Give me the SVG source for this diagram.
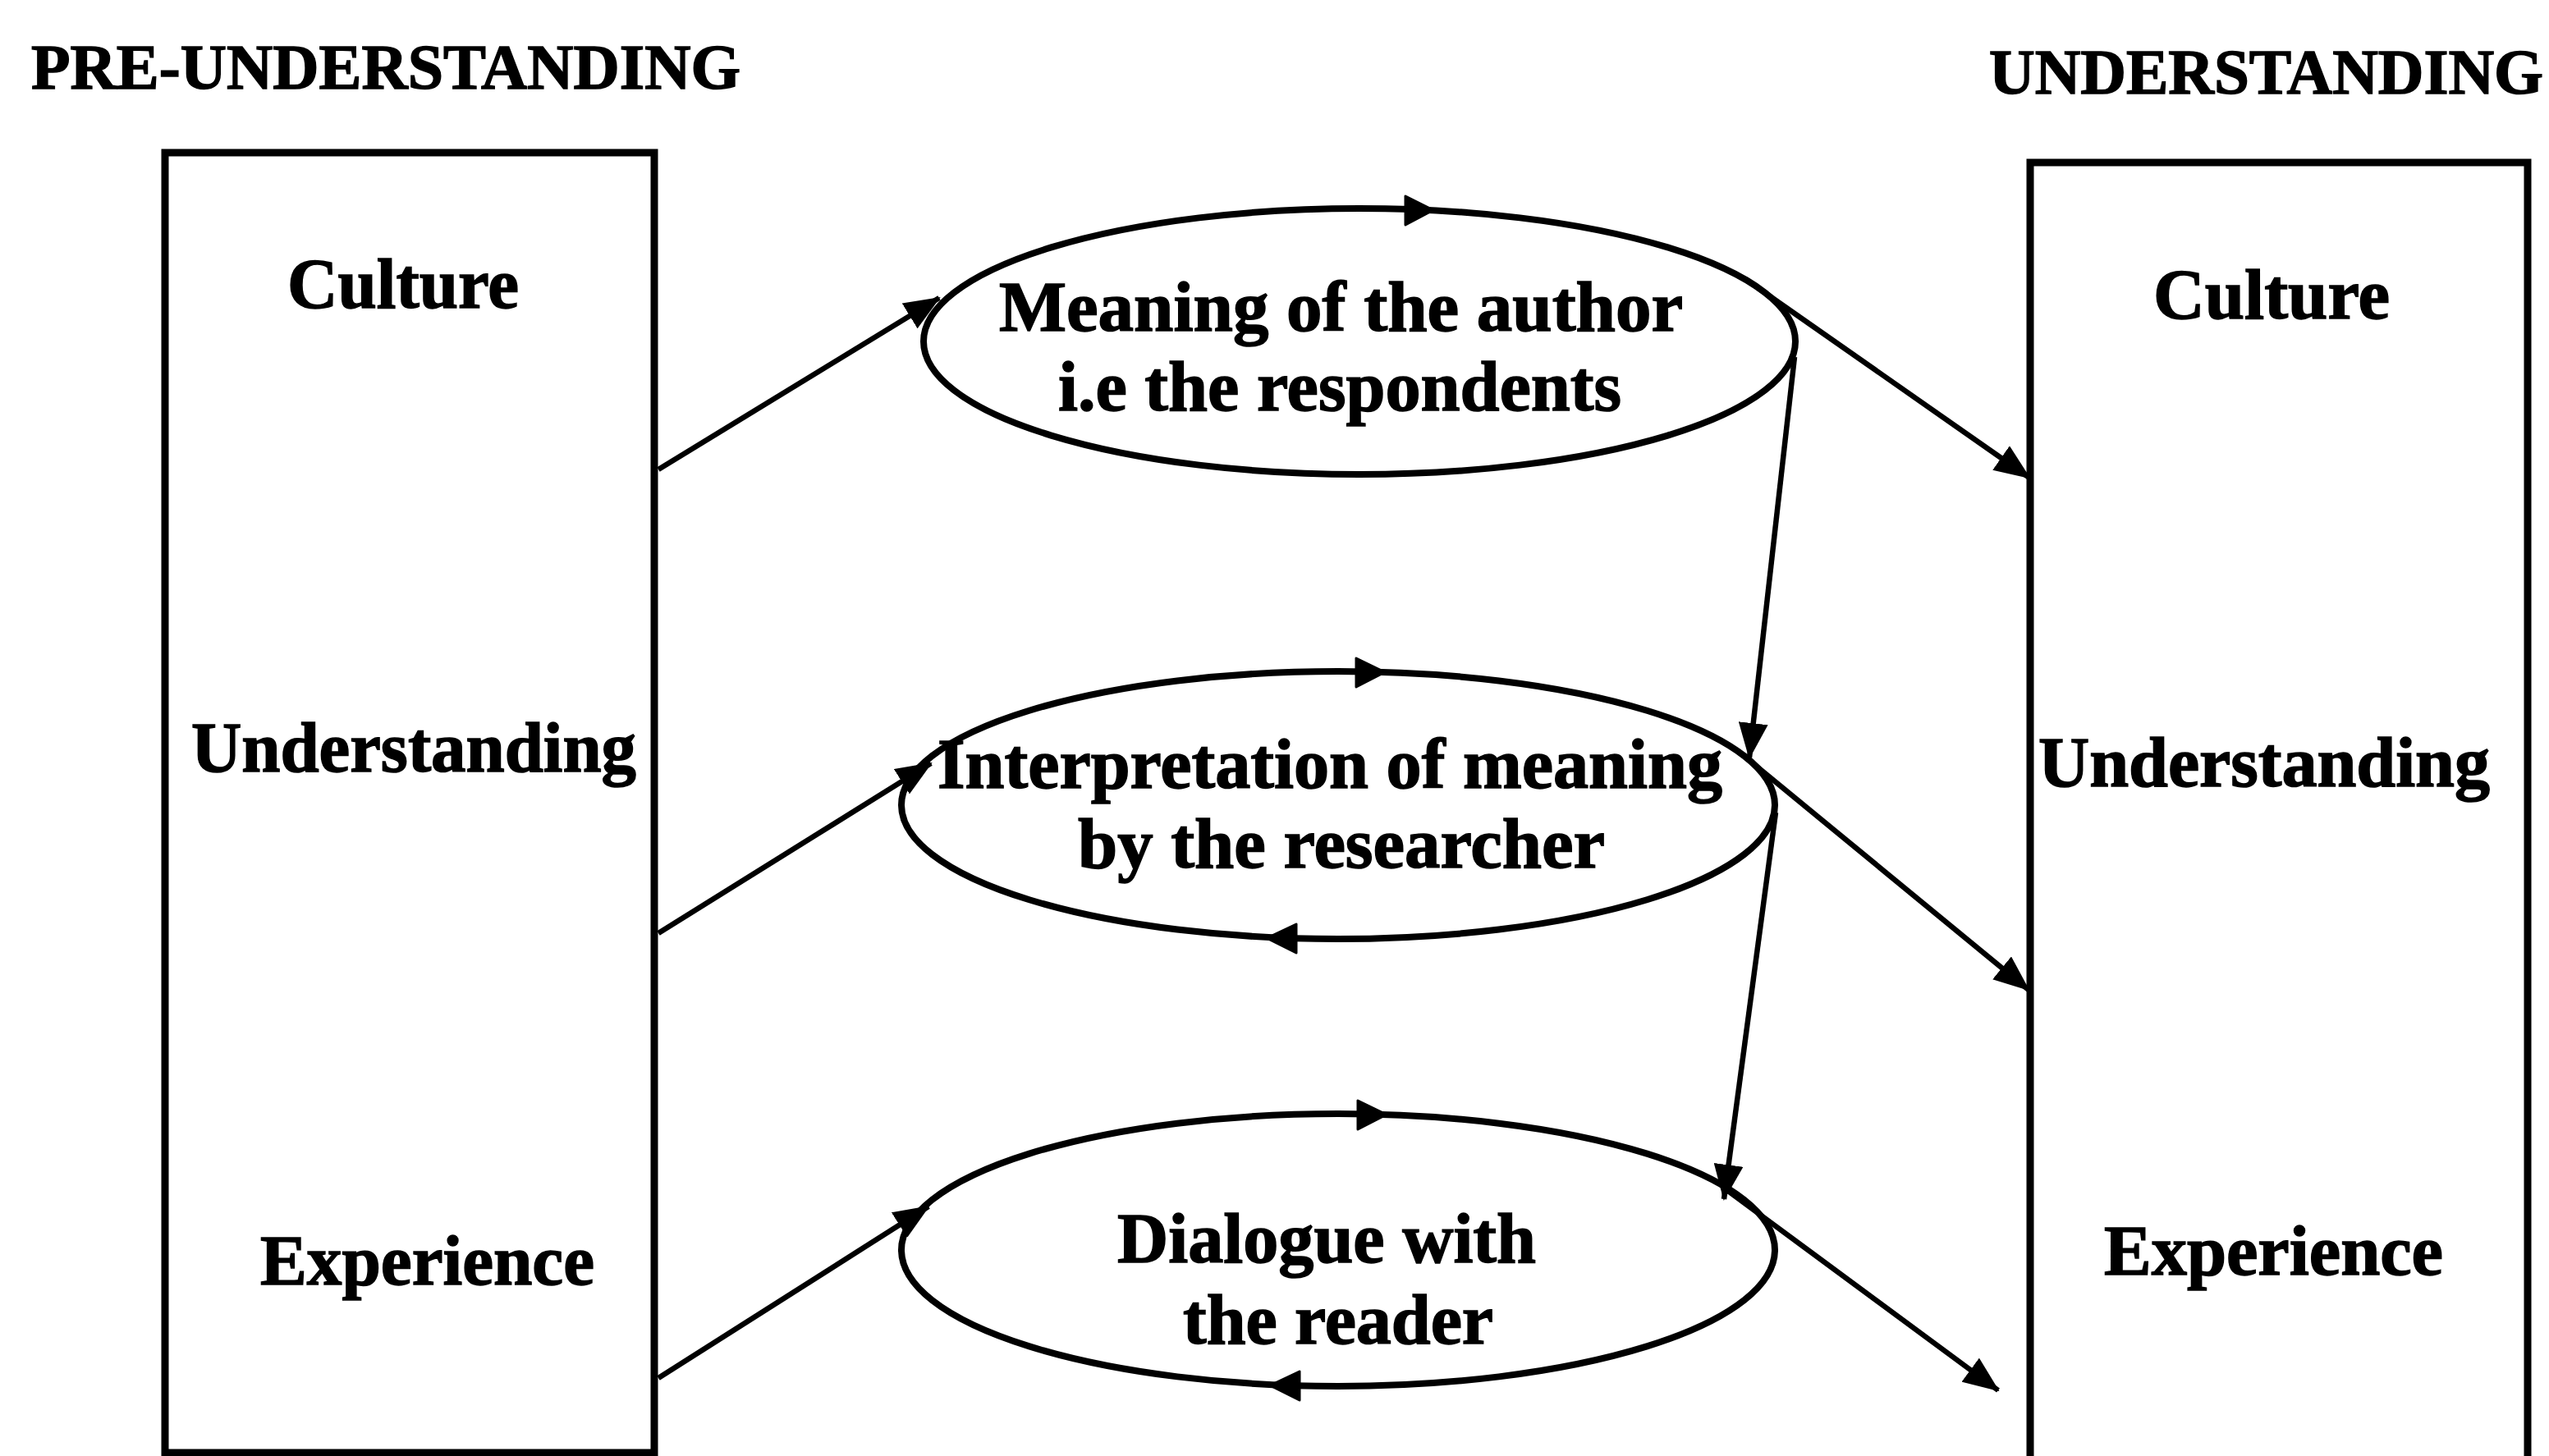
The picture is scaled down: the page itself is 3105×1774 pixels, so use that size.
<svg xmlns="http://www.w3.org/2000/svg" width="3105" height="1774" viewBox="0 0 3105 1774">
  <style>
    .t { font-family: "Liberation Serif", "Times New Roman", serif; font-weight: bold; fill: #000; stroke: #000; stroke-width: 1.5; }
    .title { font-size: 78px; }
    .lbl { font-size: 86px; }
    .box { fill: none; stroke: #000; stroke-width: 9; }
    .oval { fill: none; stroke: #000; stroke-width: 8; }
    .link { fill: none; stroke: #000; stroke-width: 6.5; }
    .head { fill: #000; stroke: #000; stroke-width: 3; stroke-linejoin: round; }
  </style>
  <defs>
    <marker id="arrow" markerUnits="userSpaceOnUse" markerWidth="44" markerHeight="36" refX="42" refY="18" orient="auto">
      <path d="M0,0 L44,18 L0,36 Z" fill="#000"/>
    </marker>
  </defs>

  <rect width="3105" height="1774" fill="#fff"/>

  <!-- column headings -->
  <g id="heading-pre">
    <text class="t title" x="38" y="108" textLength="864" lengthAdjust="spacingAndGlyphs">PRE-UNDERSTANDING</text>
  </g>
  <g id="heading-post">
    <text class="t title" x="2423" y="114" textLength="675" lengthAdjust="spacingAndGlyphs">UNDERSTANDING</text>
  </g>

  <!-- left column: pre-understanding -->
  <g id="pre-box">
    <rect class="box" x="201" y="186" width="596" height="1584"/>
    <text class="t lbl" x="350" y="375" textLength="282" lengthAdjust="spacingAndGlyphs">Culture</text>
    <text class="t lbl" x="233" y="940" textLength="542" lengthAdjust="spacingAndGlyphs">Understanding</text>
    <text class="t lbl" x="317" y="1565" textLength="407" lengthAdjust="spacingAndGlyphs">Experience</text>
  </g>

  <!-- right column: understanding -->
  <g id="post-box">
    <path class="box" d="M2473,1790 V198 H3079 V1790"/>
    <text class="t lbl" x="2623" y="388" textLength="288" lengthAdjust="spacingAndGlyphs">Culture</text>
    <text class="t lbl" x="2483" y="958" textLength="550" lengthAdjust="spacingAndGlyphs">Understanding</text>
    <text class="t lbl" x="2563" y="1553" textLength="413" lengthAdjust="spacingAndGlyphs">Experience</text>
  </g>

  <!-- middle: interpretive circles -->
  <g id="author-meaning">
    <ellipse class="oval" cx="1656" cy="416" rx="531" ry="162"/>
    <polygon class="head" points="1746,256 1712,239 1712,274"/>
    <text class="t lbl" x="1217" y="403" textLength="833" lengthAdjust="spacingAndGlyphs">Meaning of the author</text>
    <text class="t lbl" x="1289" y="500" textLength="686" lengthAdjust="spacingAndGlyphs">i.e the respondents</text>
  </g>

  <g id="researcher-interpretation">
    <ellipse class="oval" cx="1630" cy="981" rx="532" ry="163"/>
    <polygon class="head" points="1687,819 1652,802 1652,837"/>
    <polygon class="head" points="1543,1143 1579,1126 1579,1161"/>
    <text class="t lbl" x="1142" y="960" textLength="956" lengthAdjust="spacingAndGlyphs">Interpretation of meaning</text>
    <text class="t lbl" x="1313" y="1057" textLength="642" lengthAdjust="spacingAndGlyphs">by the researcher</text>
  </g>

  <g id="reader-dialogue">
    <ellipse class="oval" cx="1630" cy="1523" rx="532" ry="166"/>
    <polygon class="head" points="1689,1358 1654,1341 1654,1376"/>
    <polygon class="head" points="1547,1688 1583,1671 1583,1706"/>
    <text class="t lbl" x="1361" y="1538" textLength="510" lengthAdjust="spacingAndGlyphs">Dialogue with</text>
    <text class="t lbl" x="1441" y="1637" textLength="378" lengthAdjust="spacingAndGlyphs">the reader</text>
  </g>

  <!-- connectors -->
  <g id="connectors">
    <line class="link" x1="802" y1="572" x2="1144" y2="363" marker-end="url(#arrow)"/>
    <line class="link" x1="802" y1="1137" x2="1134" y2="930" marker-end="url(#arrow)"/>
    <line class="link" x1="802" y1="1679" x2="1131" y2="1470" marker-end="url(#arrow)"/>

    <line class="link" x1="2126" y1="340" x2="2472" y2="582" marker-end="url(#arrow)"/>
    <line class="link" x1="2117" y1="915" x2="2471" y2="1206" marker-end="url(#arrow)"/>
    <line class="link" x1="2098" y1="1446" x2="2434" y2="1694" marker-end="url(#arrow)"/>

    <line class="link" x1="2186" y1="435" x2="2131" y2="923" marker-end="url(#arrow)"/>
    <line class="link" x1="2163" y1="990" x2="2100" y2="1461" marker-end="url(#arrow)"/>
  </g>
</svg>
